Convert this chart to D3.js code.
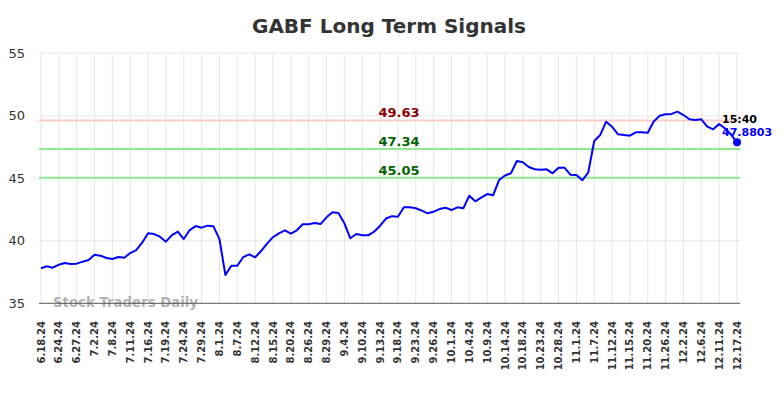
<!DOCTYPE html>
<html>
<head>
<meta charset="utf-8">
<script src="https://cdn.jsdelivr.net/npm/d3@7"></script>
<style>
  html, body { margin: 0; padding: 0; background: #fff; }
  svg { display: block; font-family: "DejaVu Sans", sans-serif; }
</style>
</head>
<body>
<svg id="chart" width="784" height="398"></svg>
<script>
const title = "GABF Long Term Signals";
const tickLabels = ["6.18.24","6.24.24","6.27.24","7.2.24","7.8.24","7.11.24","7.16.24","7.19.24","7.24.24","7.29.24",
  "8.1.24","8.7.24","8.12.24","8.15.24","8.20.24","8.26.24","8.29.24","9.4.24","9.10.24","9.13.24",
  "9.18.24","9.23.24","9.26.24","10.1.24","10.4.24","10.9.24","10.14.24","10.18.24","10.23.24","10.28.24",
  "11.1.24","11.7.24","11.12.24","11.15.24","11.20.24","11.26.24","12.2.24","12.6.24","12.11.24","12.17.24"];
const pointsPerLabel = 3;
const prices = [
  37.80, 37.96, 37.85, 38.09, 38.22, 38.14, 38.17, 38.33, 38.46, 38.89,
  38.81, 38.62, 38.54, 38.70, 38.65, 39.02, 39.26, 39.85, 40.60, 40.54,
  40.33, 39.93, 40.46, 40.73, 40.14, 40.86, 41.18, 41.05, 41.21, 41.16,
  40.14, 37.26, 38.00, 38.00, 38.70, 38.92, 38.68, 39.18, 39.77, 40.30,
  40.60, 40.84, 40.57, 40.84, 41.32, 41.32, 41.42, 41.34, 41.88, 42.28,
  42.22, 41.40, 40.20, 40.54, 40.44, 40.44, 40.73, 41.21, 41.78, 41.97,
  41.93, 42.68, 42.68, 42.60, 42.41, 42.20, 42.33, 42.54, 42.65, 42.46,
  42.68, 42.60, 43.61, 43.16, 43.45, 43.74, 43.64, 44.86, 45.22, 45.40,
  46.38, 46.28, 45.90, 45.72, 45.69, 45.72, 45.40, 45.85, 45.85, 45.29,
  45.26, 44.84, 45.48, 47.98, 48.46, 49.53, 49.13, 48.52, 48.46, 48.41,
  48.68, 48.68, 48.65, 49.55, 50.00, 50.12, 50.15, 50.33, 50.06, 49.72,
  49.66, 49.72, 49.13, 48.92, 49.34, 48.98, 48.50, 47.8803
];
const signalValues = [49.63, 47.34, 45.05];
const signalKinds = ["resistance", "support", "support"];
const yTicks = [35, 40, 45, 50, 55];
const lastTime = "15:40";
const lastLabel = "47.8803";
const watermark = "Stock Traders Daily";

const svg = d3.select("#chart");
const plotLeft = 41, plotRight = 737, plotTop = 53.3, plotBottom = 303.3;

const x = d3.scaleLinear().domain([0, prices.length - 1]).range([plotLeft, plotRight]);
const y = d3.scaleLinear().domain([35, 55]).range([plotBottom, plotTop]);

// title
svg.append("text").attr("x", 389).attr("y", 33).attr("text-anchor", "middle")
  .attr("font-size", 20).attr("font-weight", "bold").attr("fill", "#333").text(title);

// horizontal grid
svg.append("g").selectAll("line").data(yTicks.filter(d => d !== 35)).join("line")
  .attr("x1", plotLeft - 2).attr("x2", 740)
  .attr("y1", d => y(d)).attr("y2", d => y(d))
  .attr("stroke", "#e6e6e6").attr("stroke-width", 1);

// vertical grid
const tickIdx = tickLabels.map((_, i) => i * pointsPerLabel);
svg.append("g").selectAll("line").data(tickIdx).join("line")
  .attr("x1", d => x(d)).attr("x2", d => x(d))
  .attr("y1", plotTop).attr("y2", plotBottom)
  .attr("stroke", "#e6e6e6").attr("stroke-width", 1);

// y labels
svg.append("g").selectAll("text").data(yTicks).join("text")
  .attr("x", 25).attr("y", d => y(d) + 4.5).attr("text-anchor", "end")
  .attr("font-size", 13).attr("fill", "#333").text(d => d);

// x labels
svg.append("g").selectAll("text").data(tickIdx).join("text")
  .attr("transform", d => `translate(${x(d) + 3.5},321) rotate(-90)`)
  .attr("text-anchor", "end").attr("font-size", 10).attr("font-weight", "bold")
  .attr("fill", "#333").text((d, i) => tickLabels[i]);

// watermark
svg.append("text").attr("x", 53).attr("y", 307).attr("font-size", 13.3)
  .attr("font-weight", "bold").attr("fill", "#aaa").attr("fill-opacity", 0.9).text(watermark);

// axis line
svg.append("line").attr("x1", plotLeft - 2).attr("x2", 740).attr("y1", plotBottom).attr("y2", plotBottom)
  .attr("stroke", "#555").attr("stroke-width", 1);

// signal lines
const sigColor = k => k === "resistance" ? "#ffcccc" : "#90e890";
const sigText = k => k === "resistance" ? "#8b0000" : "#006400";
svg.append("g").selectAll("line").data(signalValues).join("line")
  .attr("x1", plotLeft - 2).attr("x2", 740)
  .attr("y1", d => y(d)).attr("y2", d => y(d))
  .attr("stroke", (d, i) => sigColor(signalKinds[i])).attr("stroke-width", 2);
svg.append("g").selectAll("text").data(signalValues).join("text")
  .attr("x", 399).attr("y", d => y(d) - 3).attr("text-anchor", "middle")
  .attr("font-size", 13).attr("font-weight", "bold")
  .attr("fill", (d, i) => sigText(signalKinds[i])).text(d => d.toFixed(2));

// price line
const line = d3.line().x((d, i) => x(i)).y(d => y(d));
svg.append("path").datum(prices).attr("d", line)
  .attr("fill", "none").attr("stroke", "#0000ff").attr("stroke-width", 2)
  .attr("stroke-linejoin", "round");

// last point
const li = prices.length - 1;
svg.append("circle").attr("cx", x(li)).attr("cy", y(prices[li])).attr("r", 4).attr("fill", "#0000ff");
svg.append("text").attr("x", 722).attr("y", 123).attr("font-size", 11).attr("font-weight", "bold")
  .attr("fill", "#000").text(lastTime);
svg.append("text").attr("x", 722).attr("y", 136).attr("font-size", 11).attr("font-weight", "bold")
  .attr("fill", "#0000ff").text(lastLabel);
</script>
</body>
</html>
